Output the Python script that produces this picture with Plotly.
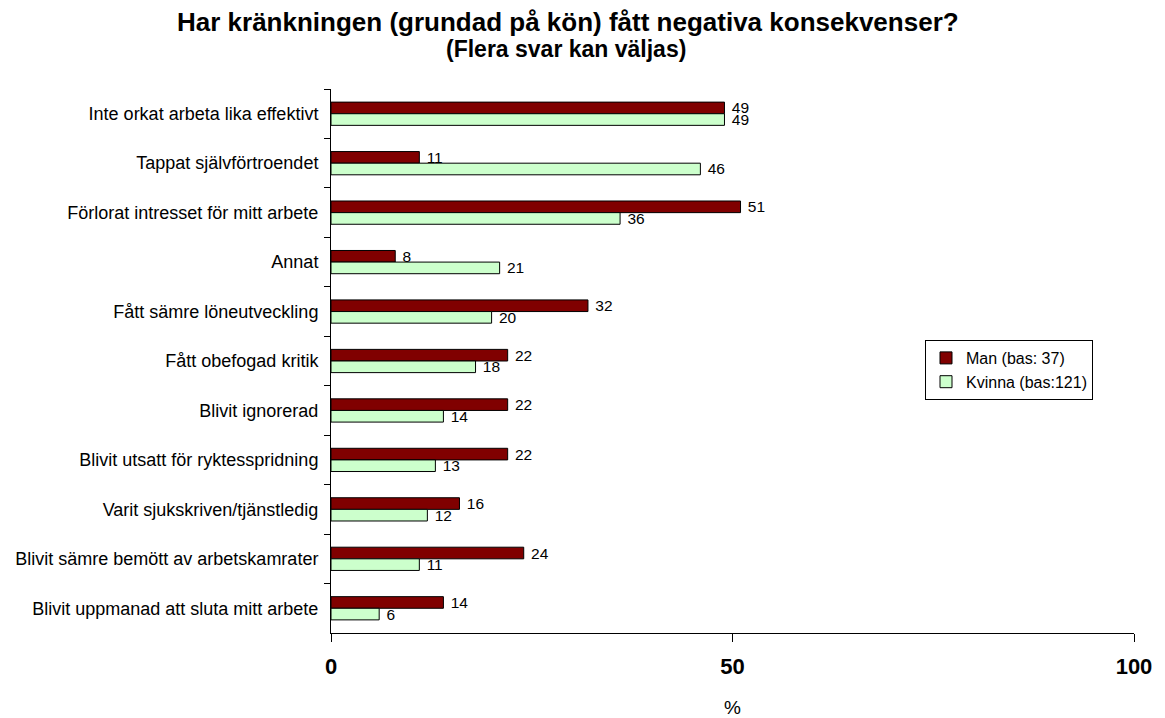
import plotly.graph_objects as go

categories = [
    "Inte orkat arbeta lika effektivt",
    "Tappat självförtroendet",
    "Förlorat intresset för mitt arbete",
    "Annat",
    "Fått sämre löneutveckling",
    "Fått obefogad kritik",
    "Blivit ignorerad",
    "Blivit utsatt för ryktesspridning",
    "Varit sjukskriven/tjänstledig",
    "Blivit sämre bemött av arbetskamrater",
    "Blivit uppmanad att sluta mitt arbete",
]
man = [49, 11, 51, 8, 32, 22, 22, 22, 16, 24, 14]
kvinna = [49, 46, 36, 21, 20, 18, 14, 13, 12, 11, 6]

font = "Arial, Liberation Sans, sans-serif"

fig = go.Figure()
fig.add_trace(go.Bar(
    y=categories, x=man, orientation="h", name="Man (bas: 37)",
    marker=dict(color="#800000", line=dict(color="black", width=1)),
    text=man, texttemplate=" %{x}", textposition="outside", cliponaxis=False,
    constraintext="none",
    textfont=dict(family=font, size=15.5, color="black"),
))
fig.add_trace(go.Bar(
    y=categories, x=kvinna, orientation="h", name="Kvinna (bas:121)",
    marker=dict(color="#CCFFCC", line=dict(color="black", width=1)),
    text=kvinna, texttemplate=" %{x}", textposition="outside", cliponaxis=False,
    constraintext="none",
    textfont=dict(family=font, size=15.5, color="black"),
))

# page body adds an 8px offset; figure coordinates compensate for it
fig.update_layout(
    width=1157, height=710,
    margin=dict(l=323, r=31, t=81, b=85),
    paper_bgcolor="white", plot_bgcolor="white",
    barmode="group", bargap=0.53, bargroupgap=0,
    font=dict(family=font, color="black"),
    showlegend=True,
    legend=dict(
        traceorder="normal", x=(925 - 331) / 803, y=(633 - 340) / 544,
        xanchor="left", yanchor="top",
        bordercolor="black", borderwidth=1, bgcolor="white",
        font=dict(family=font, size=16, color="black"),
        itemwidth=30, tracegroupgap=0,
    ),
)
fig.update_xaxes(
    range=[0, 100], tickvals=[0, 50, 100], showgrid=False, zeroline=False,
    showline=True, linecolor="black", linewidth=1,
    ticks="outside", ticklen=8, tickcolor="black", ticklabelstandoff=6,
    tickfont=dict(family=font, size=22, color="black", weight="bold"),
    title=dict(text="%", font=dict(family=font, size=19, color="black"), standoff=26),
    automargin=False,
)
fig.update_yaxes(
    categoryorder="array", categoryarray=categories, autorange="reversed",
    showgrid=False, zeroline=False, showline=True, linecolor="black", linewidth=1,
    ticks="outside", ticklen=6, tickcolor="black", tickson="boundaries",
    ticklabelstandoff=8,
    tickfont=dict(family=font, size=18, color="black"),
    automargin=False,
)
fig.add_annotation(
    text="<b>Har kränkningen (grundad på kön) fått negativa konsekvenser?</b>",
    xref="paper", yref="paper", x=(568 - 331) / 803, y=1, yshift=67,
    showarrow=False, font=dict(family=font, size=26, color="black"),
    xanchor="center", yanchor="middle",
)
fig.add_annotation(
    text="<b>(Flera svar kan väljas)</b>",
    xref="paper", yref="paper", x=(566 - 331) / 803, y=1, yshift=40,
    showarrow=False, font=dict(family=font, size=23, color="black"),
    xanchor="center", yanchor="middle",
)

fig.write_html("out.html")
